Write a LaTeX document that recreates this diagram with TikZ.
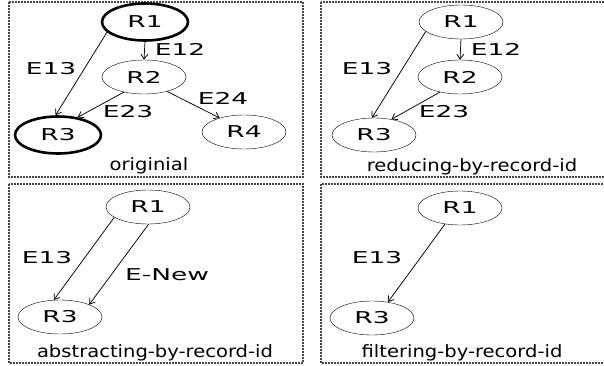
\documentclass[tikz,border=0pt]{standalone}
\usepackage{fontspec}
\setmainfont{DejaVu Sans}
\newfontfamily\graphfont[FakeStretch=1.62]{DejaVu Sans}
\newfontfamily\capfont[FakeStretch=1.15]{DejaVu Sans}
\usetikzlibrary{shapes.geometric,arrows.meta}

\begin{document}
\begin{tikzpicture}[x=1pt,y=-1pt,
  every node/.style={font=\graphfont\fontsize{16.3}{18}\selectfont},
  rec/.style={draw=black, ellipse, minimum width=84pt, minimum height=34pt, inner sep=0pt},
  thickrec/.style={rec, line width=2.6pt, minimum width=86pt, minimum height=37pt},
  edge/.style={-{Straight Barb[length=5pt,width=7pt]}, line width=0.75pt},
  panel/.style={draw=gray!55!black, dash pattern=on 2pt off 1pt, line width=1.2pt},
  caption/.style={font=\capfont\fontsize{17}{19}\selectfont}]
\useasboundingbox (0,0) rectangle (604,366);

\draw[panel] (9,2) rectangle (303,177);
\draw[panel] (321,2) rectangle (610,177);
\draw[panel] (9,184) rectangle (303,363);
\draw[panel] (321,184) rectangle (610,363);

% originial
\node[thickrec] (a1) at (145,22) {R1};
\node[rec] (a2) at (144,77) {R2};
\node[thickrec] (a3) at (58,135) {R3};
\node[rec] (a4) at (244,132) {R4};
\node (e12a) at (180,49) {E12};
\node (e13a) at (51,69) {E13};
\node (e23a) at (128,112) {E23};
\node (e24a) at (223,98) {E24};
\node[caption] (capa) at (149,166) {originial};

\draw[edge] (a1.195) -- (a3.97);
\draw[edge] (a1.south) -- (a2.north);
\draw[edge] (a2.217) -- (a3.42);
\draw[edge] (a2.328) -- (a4.150);

% reducing
\node[rec] (b1) at (461,22) {R1};
\node[rec] (b2) at (460,77) {R2};
\node[rec] (b3) at (374,135) {R3};
\node (e12b) at (496,49) {E12};
\node (e13b) at (367,69) {E13};
\node (e23b) at (444,112) {E23};
\node[caption] (capb) at (472,167) {reducing-by-record-id};

\draw[edge] (b1.195) -- (b3.97);
\draw[edge] (b1.south) -- (b2.north);
\draw[edge] (b2.217) -- (b3.42);

% abstracting
\node[rec] (c1) at (148,207) {R1};
\node[rec] (c3) at (60,317) {R3};
\node (e13c) at (47,258) {E13};
\node (enew) at (167,275) {E-New};
\node[caption] (capc) at (155,353) {abstracting-by-record-id};

\draw[edge] (c1.197) -- (c3.110);
\draw[edge] (c1.272) -- (c3.23);

% filtering
\node[rec] (d1) at (460,208) {R1};
\node[rec] (d3) at (372,318) {R3};
\node (e13d) at (377,258) {E13};
\node[caption] (capd) at (462,353) {filtering-by-record-id};

\draw[edge] (d1.227) -- (d3.45);
\end{tikzpicture}
\end{document}
